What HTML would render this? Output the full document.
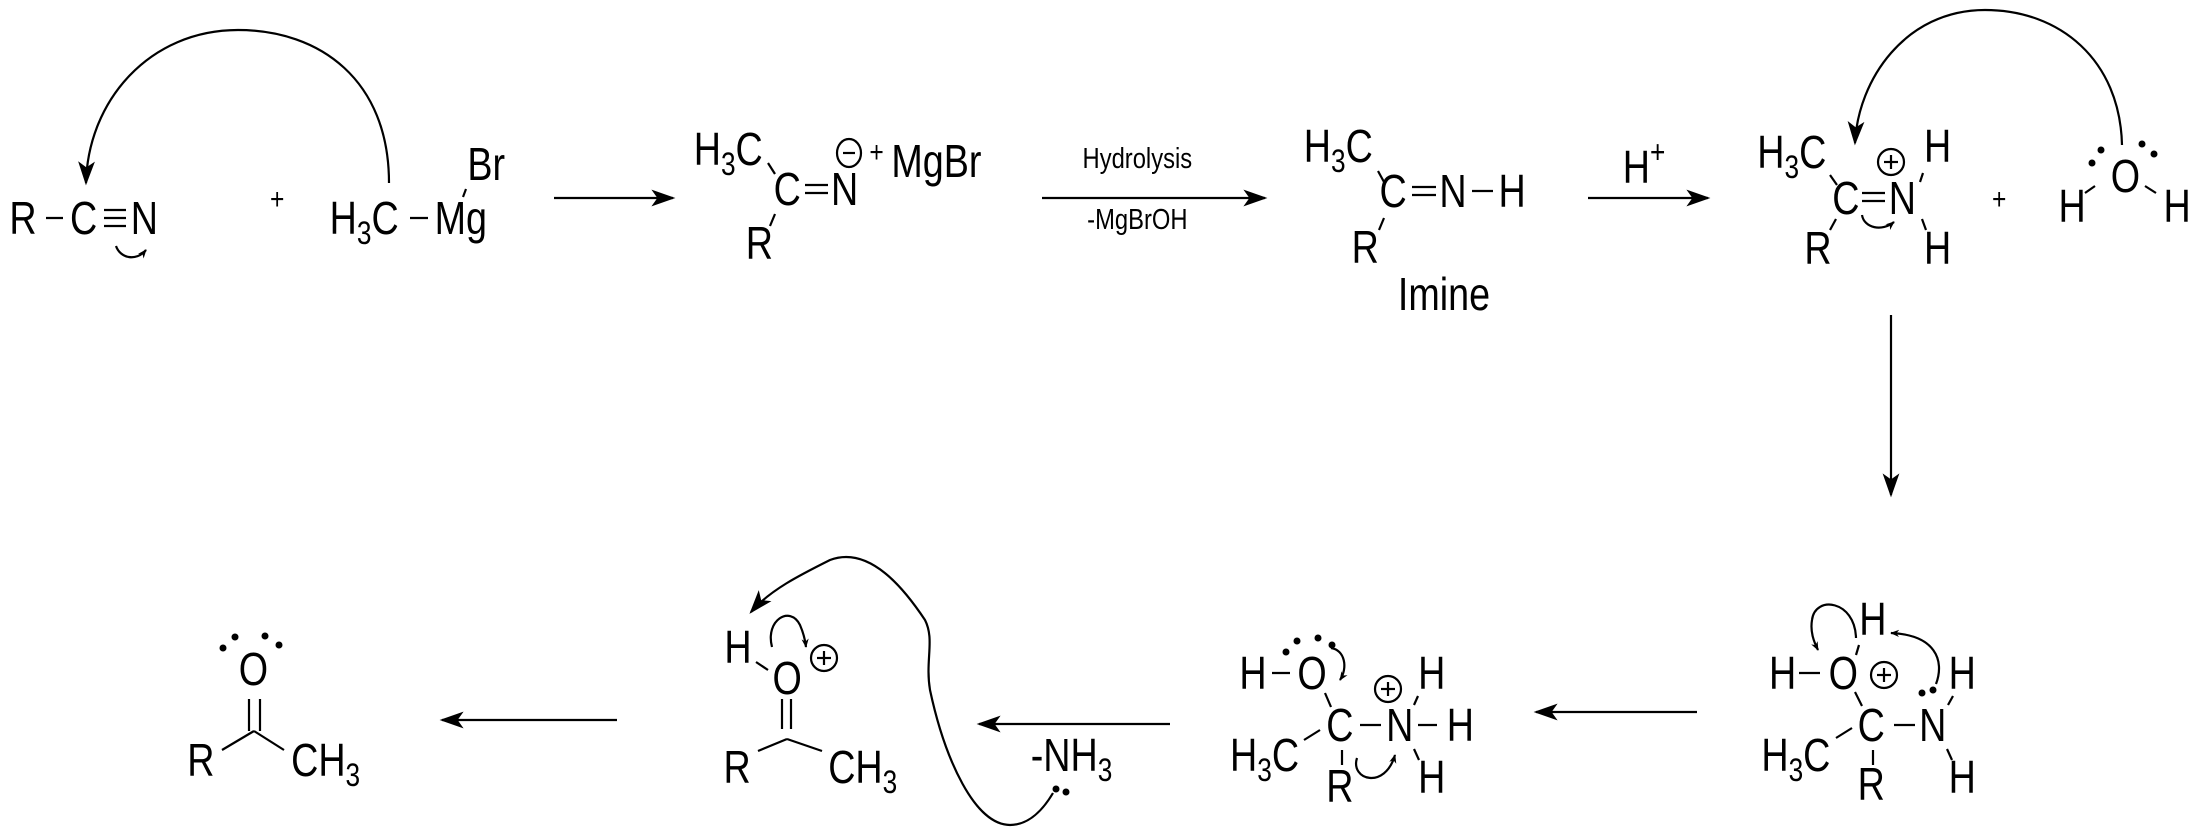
<!DOCTYPE html>
<html><head><meta charset="utf-8"><style>
html,body{margin:0;padding:0;background:#fff;}
svg{display:block;}
text{font-family:"Liberation Sans",Arial,sans-serif;fill:#000;}
.a{font-size:46px;text-anchor:middle;}
.g{font-size:46px;text-anchor:start;}
.s{font-size:30px;text-anchor:middle;}
.t{font-size:29px;text-anchor:middle;}
.u{font-size:32px;}
</style></head><body>
<svg width="2202" height="833" viewBox="0 0 2202 833" xmlns="http://www.w3.org/2000/svg">
<defs>
<marker id="ah" viewBox="0 0 10 10" refX="9" refY="5" markerWidth="9" markerHeight="9" orient="auto" markerUnits="userSpaceOnUse"><path d="M0,1 L10,5 L0,9 L3,5 z" fill="#000"/></marker>
<marker id="ab" viewBox="0 0 10 10" refX="9" refY="5" markerWidth="24" markerHeight="24" orient="auto" markerUnits="userSpaceOnUse"><path d="M0,1.5 L10,5 L0,8.5 L2.5,5 z" fill="#000"/></marker>
</defs>
<g stroke="#000" stroke-width="2.2" fill="none">
<line x1="46" y1="218" x2="63" y2="218"/>
<line x1="104" y1="210" x2="126" y2="210"/><line x1="104" y1="218" x2="126" y2="218"/><line x1="104" y1="226" x2="126" y2="226"/>
<line x1="410" y1="218" x2="428" y2="218"/>
<line x1="466" y1="189" x2="463" y2="197"/>
<line x1="768" y1="163" x2="775" y2="174"/><line x1="775" y1="214" x2="770" y2="226"/>
<line x1="805" y1="185" x2="828" y2="185"/><line x1="805" y1="193" x2="828" y2="193"/>
<line x1="1378" y1="171" x2="1384" y2="182"/><line x1="1384" y1="218" x2="1379" y2="230"/>
<line x1="1412" y1="187" x2="1436" y2="187"/><line x1="1412" y1="195" x2="1436" y2="195"/>
<line x1="1472" y1="191" x2="1493" y2="191"/>
<line x1="1830" y1="175" x2="1837" y2="185"/><line x1="1836" y1="219" x2="1830" y2="230"/>
<line x1="1862" y1="193" x2="1885" y2="193"/><line x1="1862" y1="201" x2="1885" y2="201"/>
<line x1="1923" y1="173" x2="1920" y2="182"/><line x1="1922" y1="219" x2="1926" y2="230"/>
<line x1="2085" y1="193" x2="2095" y2="186"/><line x1="2145" y1="186" x2="2156" y2="193"/>
<line x1="554" y1="198" x2="673" y2="198" marker-end="url(#ab)"/>
<line x1="1042" y1="198" x2="1265" y2="198" marker-end="url(#ab)"/>
<line x1="1588" y1="198" x2="1708" y2="198" marker-end="url(#ab)"/>
<line x1="1891" y1="315" x2="1891" y2="495" marker-end="url(#ab)"/>
<path d="M389,183 C389,80 320,30 238,30 C150,30 88,100 86,183" marker-end="url(#ab)"/>
<path d="M116,246 C120,258 136,262 146,250" marker-end="url(#ah)"/>
<path d="M2122,145 C2120,60 2060,10 1985,10 C1905,10 1858,80 1855,143" marker-end="url(#ab)"/>
<path d="M1862,215 C1864,228 1882,232 1894,222" marker-end="url(#ah)"/>
<line x1="1799" y1="673" x2="1820" y2="673"/>
<line x1="1859" y1="645" x2="1856" y2="655"/>
<line x1="1855" y1="692" x2="1862" y2="706"/>
<line x1="1894" y1="725" x2="1915" y2="725"/>
<line x1="1953" y1="696" x2="1948" y2="705"/>
<line x1="1947" y1="749" x2="1952" y2="760"/>
<line x1="1836" y1="738" x2="1852" y2="728"/>
<line x1="1873" y1="750" x2="1873" y2="765"/>
<line x1="1697" y1="712" x2="1536" y2="712" marker-end="url(#ab)"/>
<path d="M1856,638 C1855,600 1815,595 1812,620 C1810,632 1814,642 1818,650" marker-end="url(#ah)"/>
<path d="M1936,684 C1945,660 1935,635 1891,633" marker-end="url(#ah)"/>
<line x1="1272" y1="673" x2="1290" y2="673"/>
<line x1="1325" y1="693" x2="1331" y2="707"/>
<line x1="1418" y1="696" x2="1414" y2="705"/>
<line x1="1360" y1="725" x2="1381" y2="725"/>
<line x1="1418" y1="725" x2="1437" y2="725"/>
<line x1="1414" y1="749" x2="1419" y2="760"/>
<line x1="1304" y1="740" x2="1320" y2="730"/>
<line x1="1342" y1="750" x2="1342" y2="765"/>
<path d="M1331,648 C1345,650 1348,668 1340,680" marker-end="url(#ah)"/>
<path d="M1357,758 C1350,780 1385,790 1395,755" marker-end="url(#ah)"/>
<line x1="1170" y1="724" x2="979" y2="724" marker-end="url(#ab)"/>
<line x1="756" y1="662" x2="768" y2="670"/>
<line x1="782" y1="699" x2="782" y2="729"/><line x1="791" y1="699" x2="791" y2="729"/>
<line x1="787" y1="739" x2="758" y2="751"/><line x1="787" y1="739" x2="822" y2="751"/>
<path d="M772,647 C765,620 790,605 800,625 C803,632 805,638 806,647" marker-end="url(#ah)"/>
<path d="M1053,793 C1040,815 1025,825 1010,825 C975,825 945,760 930,690 C925,660 935,640 925,620 C905,590 870,545 830,560 C800,575 770,590 751,612" marker-end="url(#ab)"/>
<line x1="249" y1="699" x2="249" y2="731"/><line x1="260" y1="699" x2="260" y2="731"/>
<line x1="254" y1="731" x2="222" y2="750"/><line x1="254" y1="731" x2="284" y2="750"/>
<line x1="617" y1="720" x2="442" y2="720" marker-end="url(#ab)"/>
<ellipse cx="849" cy="153" rx="12" ry="14"/><line x1="843" y1="153" x2="855" y2="153"/>
<circle cx="1891" cy="162" r="13"/><line x1="1884" y1="162" x2="1898" y2="162"/><line x1="1891" y1="155" x2="1891" y2="169"/>
<circle cx="1884" cy="675" r="13"/><line x1="1877" y1="675" x2="1891" y2="675"/><line x1="1884" y1="668" x2="1884" y2="682"/>
<circle cx="1388" cy="689" r="13"/><line x1="1381" y1="689" x2="1395" y2="689"/><line x1="1388" y1="682" x2="1388" y2="696"/>
<circle cx="824" cy="658" r="13"/><line x1="817" y1="658" x2="831" y2="658"/><line x1="824" y1="651" x2="824" y2="665"/>
</g>
<g fill="#000">
<circle cx="2092" cy="163" r="3.5"/><circle cx="2101" cy="150" r="3.5"/><circle cx="2142" cy="144" r="3.5"/><circle cx="2154" cy="154" r="3.5"/>
<circle cx="1922" cy="693" r="3.5"/><circle cx="1933" cy="690" r="3.5"/>
<circle cx="1286" cy="652" r="3.5"/><circle cx="1297" cy="641" r="3.5"/><circle cx="1318" cy="638" r="3.5"/><circle cx="1332" cy="645" r="3.5"/>
<circle cx="1056" cy="789" r="3.5"/><circle cx="1066" cy="792" r="3.5"/>
<circle cx="223" cy="648" r="3.5"/><circle cx="235" cy="637" r="3.5"/><circle cx="265" cy="636" r="3.5"/><circle cx="279" cy="645" r="3.5"/>
</g>
<g transform="scale(0.82,1)">
<text class="a" x="28" y="234">R</text><text class="a" x="102" y="234">C</text><text class="a" x="176" y="234">N</text>
<text class="s" x="338" y="209">+</text>
<text class="g" x="402" y="234">H<tspan class="u" dy="10">3</tspan><tspan dy="-10">C</tspan></text>
<text class="g" x="530" y="234">Mg</text>
<text class="a" x="593" y="180">Br</text>
<text class="g" x="846" y="165">H<tspan class="u" dy="10">3</tspan><tspan dy="-10">C</tspan></text>
<text class="a" x="960" y="205">C</text><text class="a" x="1030" y="205">N</text>
<text class="s" x="1069" y="162">+</text><text class="g" x="1087" y="177">MgBr</text>
<text class="a" x="926" y="259">R</text>
<text class="t" x="1387" y="168">Hydrolysis</text><text class="t" x="1387" y="229">-MgBrOH</text>
<text class="g" x="1590" y="162">H<tspan class="u" dy="10">3</tspan><tspan dy="-10">C</tspan></text>
<text class="a" x="1699" y="207">C</text><text class="a" x="1772" y="207">N</text><text class="a" x="1844" y="207">H</text>
<text class="a" x="1665" y="263">R</text>
<text class="a" x="1761" y="310">Imine</text>
<text class="g" x="1979" y="183">H<tspan class="u" dy="-20">+</tspan></text>
<text class="g" x="2143" y="168">H<tspan class="u" dy="10">3</tspan><tspan dy="-10">C</tspan></text>
<text class="a" x="2251" y="214">C</text><text class="a" x="2320" y="214">N</text>
<text class="a" x="2363" y="162">H</text><text class="a" x="2363" y="264">H</text><text class="a" x="2217" y="264">R</text>
<text class="s" x="2438" y="209">+</text>
<text class="a" x="2592" y="192">O</text><text class="a" x="2527" y="222">H</text><text class="a" x="2655" y="222">H</text>
<text class="a" x="2174" y="689">H</text><text class="a" x="2248" y="689">O</text><text class="a" x="2284" y="635">H</text>
<text class="a" x="2282" y="741">C</text><text class="a" x="2357" y="741">N</text>
<text class="a" x="2393" y="689">H</text><text class="a" x="2393" y="793">H</text>
<text class="g" x="2148" y="771">H<tspan class="u" dy="10">3</tspan><tspan dy="-10">C</tspan></text>
<text class="a" x="2282" y="800">R</text>
<text class="a" x="1528" y="689">H</text><text class="a" x="1600" y="689">O</text>
<text class="a" x="1746" y="689">H</text>
<text class="a" x="1634" y="741">C</text><text class="a" x="1707" y="741">N</text><text class="a" x="1781" y="741">H</text>
<text class="a" x="1746" y="793">H</text>
<text class="g" x="1500" y="771">H<tspan class="u" dy="10">3</tspan><tspan dy="-10">C</tspan></text>
<text class="a" x="1634" y="802">R</text>
<text class="a" x="900" y="663">H</text><text class="a" x="960" y="694">O</text>
<text class="a" x="899" y="783">R</text>
<text class="g" x="1010" y="783">CH<tspan class="u" dy="10">3</tspan></text>
<text class="g" x="1257" y="771">-NH<tspan class="u" dy="10">3</tspan></text>
<text class="a" x="309" y="685">O</text><text class="a" x="245" y="776">R</text>
<text class="g" x="355" y="776">CH<tspan class="u" dy="10">3</tspan></text>
</g>
</svg>
</body></html>
